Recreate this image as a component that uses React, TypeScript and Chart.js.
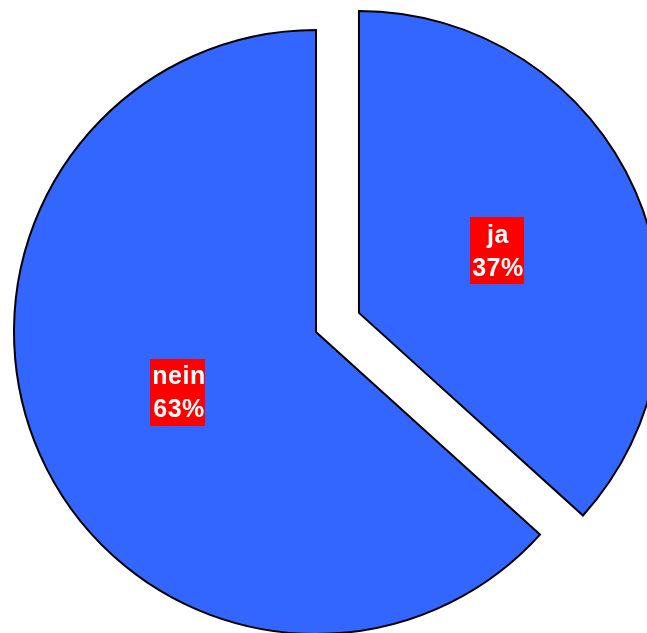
import React, { useEffect, useRef } from "react";
import { Chart, registerables } from "chart.js";

Chart.register(...registerables);

const categories = ["ja", "nein"];
const values = [36.7, 63.3];
const percentLabels = ["37%", "63%"];
const explode = [47, 0];

const explodePlugin = {
  id: "explodeSlices",
  afterDatasetsUpdate(chart: any) {
    const meta = chart.getDatasetMeta(0);
    meta.data.forEach((arc: any, i: number) => {
      const d = explode[i] || 0;
      if (!d) return;
      const half = (arc.startAngle + arc.endAngle) / 2;
      arc.x += Math.cos(half) * d;
      arc.y += Math.sin(half) * d;
    });
  },
};

const labelPlugin = {
  id: "boxLabels",
  afterDatasetsDraw(chart: any) {
    const ctx = chart.ctx as CanvasRenderingContext2D;
    const meta = chart.getDatasetMeta(0);
    meta.data.forEach((arc: any, i: number) => {
      const half = (arc.startAngle + arc.endAngle) / 2;
      const r = arc.outerRadius / 2;
      const cx = arc.x + Math.cos(half) * r;
      const cy = arc.y + Math.sin(half) * r;
      const lines = [categories[i], percentLabels[i]];
      ctx.save();
      ctx.font = "bold 25px 'Liberation Sans', Arial, sans-serif";
      (ctx as any).letterSpacing = "0.5px";
      const w = Math.max(...lines.map((l) => ctx.measureText(l).width)) + 2;
      const lineH = 33;
      const h = lineH * lines.length + 1;
      ctx.fillStyle = "#FF0000";
      ctx.fillRect(Math.round(cx - w / 2), Math.round(cy - h / 2 - 1), Math.round(w), h);
      ctx.fillStyle = "#FFFFFF";
      ctx.textAlign = "center";
      ctx.textBaseline = "middle";
      lines.forEach((l, k) => {
        ctx.fillText(l, cx + 1, cy - h / 2 + lineH / 2 + k * lineH + 1);
      });
      ctx.restore();
    });
  },
};

export default function App() {
  const ref = useRef<HTMLCanvasElement>(null);
  useEffect(() => {
    if (!ref.current) return;
    const chart = new Chart(ref.current, {
      type: "pie",
      data: {
        labels: categories,
        datasets: [
          {
            data: values,
            backgroundColor: ["#3366FF", "#3366FF"],
            borderColor: "#000000",
            borderWidth: 2,
            borderJoinStyle: "miter",
          } as any,
        ],
      },
      options: {
        responsive: false,
        animation: false,
        radius: 302,
        layout: { padding: { left: 0, top: 0, right: 68, bottom: 36 } },
        plugins: {
          legend: { display: false },
          tooltip: { enabled: false },
        },
      } as any,
      plugins: [explodePlugin, labelPlugin],
    });
    return () => chart.destroy();
  }, []);
  return (
    <div
      style={{
        position: "fixed",
        left: 0,
        top: 0,
        width: 647,
        height: 633,
        overflow: "hidden",
        background: "#fff",
      }}
    >
      <canvas ref={ref} width={700} height={700} style={{ width: 700, height: 700, display: "block" }} />
    </div>
  );
}
